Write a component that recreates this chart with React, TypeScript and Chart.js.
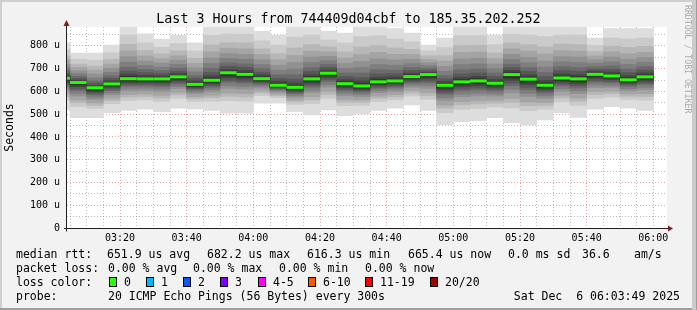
import React, { useEffect, useRef } from "react";
import { Chart, registerables } from "chart.js";
Chart.register(...registerables);

const FONT = '"DejaVu Sans Mono", monospace';

// Centre of each 5-minute slot, in minutes after 03:00
const slotCenters = [
  2.5, 7.5, 12.5, 17.5, 22.5, 27.5, 32.5, 37.5, 42.5, 47.5, 52.5, 57.5,
  62.5, 67.5, 72.5, 77.5, 82.5, 87.5, 92.5, 97.5, 102.5, 107.5, 112.5, 117.5,
  122.5, 127.5, 132.5, 137.5, 142.5, 147.5, 152.5, 157.5, 162.5, 167.5, 172.5, 177.5,
];

// Median RTT per slot (microseconds)
const medians = [
  658, 639, 616, 633, 656, 655, 655, 664, 631, 649, 682, 675,
  656, 627, 618, 655, 680, 634, 624, 642, 646, 665, 674, 627,
  642, 646, 636, 674, 654, 627, 659, 655, 675, 668, 651, 664,
];

// 20 sorted ping RTTs per slot (microseconds)
const pingRows = [
  [519, 562, 577, 589, 605, 615, 626, 633, 641, 648, 664, 670, 680, 691, 705, 720, 738, 756, 783, 814],
  [485, 533, 550, 562, 580, 591, 604, 611, 621, 628, 644, 649, 657, 666, 678, 691, 705, 720, 742, 768],
  [485, 525, 539, 550, 565, 574, 584, 591, 599, 605, 620, 626, 636, 646, 660, 676, 693, 711, 737, 768],
  [507, 546, 560, 570, 585, 594, 604, 610, 618, 624, 640, 647, 657, 669, 684, 701, 720, 741, 770, 804],
  [516, 559, 575, 586, 603, 613, 624, 631, 639, 646, 666, 675, 689, 706, 728, 752, 778, 807, 847, 895],
  [522, 563, 578, 589, 604, 614, 624, 631, 639, 646, 663, 671, 683, 697, 714, 734, 756, 780, 813, 853],
  [511, 556, 571, 583, 600, 610, 622, 629, 638, 645, 662, 669, 679, 692, 707, 725, 744, 765, 794, 829],
  [526, 569, 584, 595, 612, 621, 632, 639, 647, 654, 671, 679, 689, 702, 719, 737, 757, 779, 810, 846],
  [523, 556, 568, 577, 590, 598, 606, 612, 618, 623, 638, 646, 657, 669, 686, 704, 724, 746, 777, 814],
  [516, 557, 572, 583, 598, 608, 618, 625, 633, 640, 659, 669, 683, 701, 723, 747, 774, 804, 846, 895],
  [504, 559, 578, 592, 613, 625, 640, 648, 659, 668, 689, 697, 710, 725, 745, 766, 790, 815, 852, 895],
  [504, 557, 576, 590, 610, 622, 636, 644, 654, 663, 684, 693, 706, 721, 741, 763, 787, 814, 851, 895],
  [548, 581, 593, 602, 615, 623, 631, 637, 643, 648, 664, 673, 685, 700, 718, 739, 762, 787, 822, 864],
  [548, 572, 581, 588, 597, 603, 609, 613, 618, 621, 636, 645, 658, 673, 693, 715, 740, 766, 804, 848],
  [511, 543, 555, 563, 575, 583, 591, 596, 603, 608, 626, 637, 654, 674, 699, 727, 758, 791, 839, 895],
  [497, 546, 563, 576, 595, 606, 619, 627, 636, 644, 665, 674, 689, 705, 727, 751, 777, 806, 847, 895],
  [519, 569, 587, 600, 619, 630, 643, 651, 661, 669, 687, 695, 706, 719, 735, 754, 774, 796, 827, 864],
  [494, 537, 553, 564, 581, 591, 602, 609, 617, 624, 643, 652, 665, 681, 701, 723, 747, 774, 812, 856],
  [501, 539, 553, 563, 577, 586, 596, 602, 609, 615, 635, 646, 662, 681, 705, 732, 762, 795, 841, 895],
  [516, 555, 569, 579, 594, 603, 613, 619, 627, 633, 652, 662, 677, 695, 718, 743, 771, 801, 844, 895],
  [526, 563, 576, 586, 600, 609, 618, 624, 632, 638, 655, 664, 678, 694, 715, 738, 763, 791, 830, 876],
  [541, 579, 593, 603, 618, 627, 636, 643, 650, 656, 673, 680, 692, 705, 722, 741, 762, 785, 818, 856],
  [516, 565, 582, 595, 614, 625, 638, 646, 655, 663, 679, 684, 692, 701, 713, 726, 740, 756, 778, 804],
  [453, 507, 526, 540, 561, 573, 587, 596, 606, 615, 635, 644, 656, 670, 689, 710, 733, 757, 793, 834],
  [467, 521, 541, 555, 576, 588, 602, 611, 621, 630, 652, 662, 677, 695, 718, 743, 771, 801, 844, 895],
  [471, 525, 545, 559, 580, 592, 606, 615, 625, 634, 656, 666, 681, 698, 721, 746, 773, 803, 845, 895],
  [485, 532, 548, 561, 579, 589, 601, 609, 618, 625, 644, 653, 666, 681, 700, 721, 744, 770, 806, 848],
  [463, 528, 552, 569, 594, 609, 625, 636, 649, 659, 683, 692, 705, 720, 740, 762, 787, 813, 851, 895],
  [453, 515, 537, 554, 578, 592, 608, 618, 630, 640, 664, 673, 688, 705, 726, 750, 777, 806, 847, 895],
  [475, 522, 539, 551, 569, 580, 592, 600, 609, 616, 638, 648, 665, 683, 707, 734, 764, 796, 841, 895],
  [507, 554, 571, 583, 601, 612, 624, 632, 641, 648, 668, 678, 692, 709, 730, 753, 779, 808, 848, 895],
  [486, 538, 557, 571, 591, 603, 616, 625, 635, 643, 665, 674, 689, 705, 727, 751, 777, 806, 847, 895],
  [522, 569, 586, 599, 617, 628, 640, 647, 657, 664, 681, 688, 697, 708, 723, 739, 756, 775, 802, 834],
  [533, 575, 590, 601, 617, 626, 637, 644, 652, 659, 676, 685, 697, 712, 730, 751, 774, 799, 834, 876],
  [526, 565, 579, 589, 604, 612, 622, 629, 636, 642, 660, 669, 683, 698, 719, 741, 766, 793, 831, 876],
  [516, 562, 578, 590, 608, 618, 630, 637, 646, 654, 672, 681, 694, 709, 728, 749, 772, 798, 834, 876],
];

// Smoke shades, outermost pair to innermost pair
const smokeShades = [
  "#dddddd", "#cacaca", "#b7b7b7", "#a4a4a4", "#919191",
  "#7e7e7e", "#6b6b6b", "#585858", "#454545", "#323232",
];

// Axis ranges / ticks
const xRange = [4.1, 184.1]; // minutes after 03:00
const xLabelMinutes = [20, 40, 60, 80, 100, 120, 140, 160, 180];
const xLabels = ["03:20", "03:40", "04:00", "04:20", "04:40", "05:00", "05:20", "05:40", "06:00"];
const yRange = [0, 883];
const yLabelValues = [0, 100, 200, 300, 400, 500, 600, 700, 800];
const yLabels = ["0", "100 u", "200 u", "300 u", "400 u", "500 u", "600 u", "700 u", "800 u"];

const titleText = "Last 3 Hours from 744409d04cbf to 185.35.202.252";

const rttLegend: [number, string][] = [
  [16, "median rtt:"], [107, "651.9 us avg"], [207, "682.2 us max"], [307, "616.3 us min"],
  [408, "665.4 us now"], [508, "0.0 ms sd"], [582, "36.6"], [634, "am/s"],
];
const lossLegend: [number, string][] = [
  [16, "packet loss:"], [108, "0.00 % avg"], [193, "0.00 % max"], [279, "0.00 % min"], [365, "0.00 % now"],
];
const lossColorNames = ["0", "1", "2", "3", "4-5", "6-10", "11-19", "20/20"];
const lossColors = ["#26ff00", "#00b8ff", "#0059ff", "#7e00ff", "#ff00ff", "#ff5500", "#ff0000", "#a10000"];
const lossColorX = [109, 146, 183, 220, 258, 308, 365, 430];
const probeText = "20 ICMP Echo Pings (56 Bytes) every 300s";
const stampText = "Sat Dec  6 06:03:49 2025";

const MAJOR = "rgba(222,79,79,0.55)";
const MINOR = "rgba(143,143,143,0.6)";

const rrdPlugin = {
  id: "rrdDecor",
  beforeDraw(chart: any) {
    const { ctx, chartArea } = chart;
    ctx.save();
    ctx.fillStyle = "#ffffff";
    ctx.fillRect(chartArea.left, chartArea.top, chartArea.right - chartArea.left, chartArea.bottom - chartArea.top);
    ctx.restore();
  },
  afterDraw(chart: any) {
    const { ctx, chartArea } = chart;
    const { left, right, top, bottom } = chartArea;
    const ax = Math.round(left) - 0.5;
    const ay = Math.round(bottom) + 0.5;
    ctx.save();
    ctx.strokeStyle = "#1f1f1f";
    ctx.lineWidth = 1;
    ctx.beginPath();
    ctx.moveTo(ax, ay + 3);
    ctx.lineTo(ax, top - 3);
    ctx.moveTo(left - 3, ay);
    ctx.lineTo(right + 2, ay);
    ctx.stroke();
    ctx.fillStyle = "#801f1f";
    ctx.beginPath();
    ctx.moveTo(ax, top - 7);
    ctx.lineTo(ax - 3, top - 1);
    ctx.lineTo(ax + 3, top - 1);
    ctx.closePath();
    ctx.fill();
    ctx.beginPath();
    ctx.moveTo(right + 6, ay);
    ctx.lineTo(right + 1, ay - 3);
    ctx.lineTo(right + 1, ay + 3);
    ctx.closePath();
    ctx.fill();
    ctx.restore();
  },
};

export default function App() {
  const canvasRef = useRef<HTMLCanvasElement | null>(null);

  useEffect(() => {
    document.body.style.margin = "0";
    const canvas = canvasRef.current;
    if (!canvas) return;

    const xMinor: number[] = [];
    for (let m = 5; m <= 180; m += 5) xMinor.push(m);
    const yMinor: number[] = [];
    for (let v = 0; v <= 850; v += 50) yMinor.push(v);

    const xLabelMap = new Map<number, string>();
    xLabelMinutes.forEach((m, i) => xLabelMap.set(m, xLabels[i]));
    const yLabelMap = new Map<number, string>();
    yLabelValues.forEach((v, i) => yLabelMap.set(v, yLabels[i]));

    const smokeSets = smokeShades.map((shade, b) => ({
      type: "bar" as const,
      data: pingRows.map((row, i) => ({ x: slotCenters[i], y: [row[b], row[19 - b]] })),
      backgroundColor: shade,
      borderWidth: 0,
      grouped: false,
      barPercentage: 1,
      categoryPercentage: 1,
      clip: 0,
      order: 20 - b,
    }));

    const medianSet = {
      type: "line" as const,
      data: medians.map((m, i) => ({ x: slotCenters[i], y: m })),
      showLine: false,
      pointStyle: "line",
      pointRadius: 8.33,
      pointHoverRadius: 8.33,
      pointBorderWidth: 3,
      pointBorderColor: lossColors[0],
      pointBackgroundColor: lossColors[0],
      clip: 0,
      order: 0,
    };

    const chart = new Chart(canvas, {
      type: "bar",
      data: { datasets: [medianSet as any, ...smokeSets] },
      options: {
        responsive: false,
        animation: false,
        events: [],
        layout: { padding: { left: 0, right: 30, top: 27, bottom: 0 } },
        plugins: { legend: { display: false }, title: { display: false }, tooltip: { enabled: false } },
        scales: {
          x: {
            type: "linear",
            min: xRange[0],
            max: xRange[1],
            offset: false,
            z: 1,
            afterBuildTicks: (s: any) => {
              s.ticks = xMinor.map((v) => ({ value: v }));
            },
            afterFit: (s: any) => {
              s.height = 82;
            },
            ticks: {
              autoSkip: false,
              maxRotation: 0,
              minRotation: 0,
              padding: 4,
              color: "#000",
              font: { family: FONT, size: 10 },
              callback: (v: any) => xLabelMap.get(Number(v)) ?? "",
            },
            grid: {
              offset: false,
              drawTicks: false,
              lineWidth: 1,
              color: (c: any) => (c.tick && xLabelMap.has(c.tick.value) ? MAJOR : MINOR),
            },
            border: { display: false, dash: [1, 2] },
          },
          y: {
            type: "linear",
            min: yRange[0],
            max: yRange[1],
            z: 1,
            afterBuildTicks: (s: any) => {
              s.ticks = yMinor.map((v) => ({ value: v }));
            },
            afterFit: (s: any) => {
              s.width = 67;
            },
            ticks: {
              autoSkip: false,
              padding: 7,
              color: "#000",
              font: { family: FONT, size: 10 },
              callback: (v: any) => yLabelMap.get(Number(v)) ?? "",
            },
            grid: {
              drawTicks: false,
              lineWidth: 1,
              color: (c: any) => (c.tick && yLabelMap.has(c.tick.value) ? MAJOR : MINOR),
            },
            border: { display: false, dash: [1, 2] },
            title: {
              display: true,
              text: "Seconds",
              color: "#000",
              font: { family: FONT, size: 11.5 },
              padding: { top: 3, bottom: 0 },
            },
          },
        },
      } as any,
      plugins: [rrdPlugin],
    });
    return () => chart.destroy();
  }, []);

  const rowStyle = (cy: number, x: number): React.CSSProperties => ({
    position: "absolute",
    left: x,
    top: cy - 7,
    lineHeight: "14px",
    height: 14,
    fontSize: 11.5,
    whiteSpace: "pre",
    color: "#000",
  });

  return (
    <div
      style={{
        position: "relative",
        width: 697,
        height: 310,
        background: "#f2f2f2",
        overflow: "hidden",
        fontFamily: FONT,
      }}
    >
      <canvas ref={canvasRef} width={697} height={310} style={{ position: "absolute", left: 0, top: 0, width: 697, height: 310 }} />
      <div style={{ position: "absolute", left: 0, top: 0, width: 697, height: 2, background: "#cfcfcf" }} />
      <div style={{ position: "absolute", left: 0, top: 0, width: 2, height: 310, background: "#cfcfcf" }} />
      <div style={{ position: "absolute", left: 0, top: 308, width: 697, height: 2, background: "#9e9e9e" }} />
      <div style={{ position: "absolute", left: 692, top: 0, width: 5, height: 310, background: "#cbcbcb" }} />
      <div style={{ position: "absolute", left: 696, top: 0, width: 1, height: 310, background: "#9e9e9e" }} />
      <div
        style={{
          position: "absolute",
          left: 0,
          width: 697,
          top: 11,
          lineHeight: "16px",
          textAlign: "center",
          fontSize: 13.3,
          whiteSpace: "pre",
          color: "#000",
        }}
      >
        {titleText}
      </div>
      <div
        style={{
          position: "absolute",
          left: 683,
          top: 5,
          writingMode: "vertical-rl",
          fontSize: 8.2,
          lineHeight: "10px",
          color: "#ababab",
          whiteSpace: "pre",
        }}
      >
        RRDTOOL / TOBI OETIKER
      </div>
      {rttLegend.map(([x, t], i) => (
        <span key={"r" + i} style={rowStyle(254, x)}>{t}</span>
      ))}
      {lossLegend.map(([x, t], i) => (
        <span key={"l" + i} style={rowStyle(268, x)}>{t}</span>
      ))}
      <span style={rowStyle(282, 16)}>loss color:</span>
      {lossColorNames.map((name, i) => (
        <React.Fragment key={"c" + i}>
          <span
            style={{
              position: "absolute",
              left: lossColorX[i],
              top: 277,
              width: 6,
              height: 8,
              background: lossColors[i],
              border: "1px solid #000",
            }}
          />
          <span style={rowStyle(282, lossColorX[i] + 15)}>{name}</span>
        </React.Fragment>
      ))}
      <span style={rowStyle(296, 16)}>probe:</span>
      <span style={rowStyle(296, 108)}>{probeText}</span>
      <span style={{ ...rowStyle(296, 0), left: undefined, right: 17 }}>{stampText}</span>
    </div>
  );
}
